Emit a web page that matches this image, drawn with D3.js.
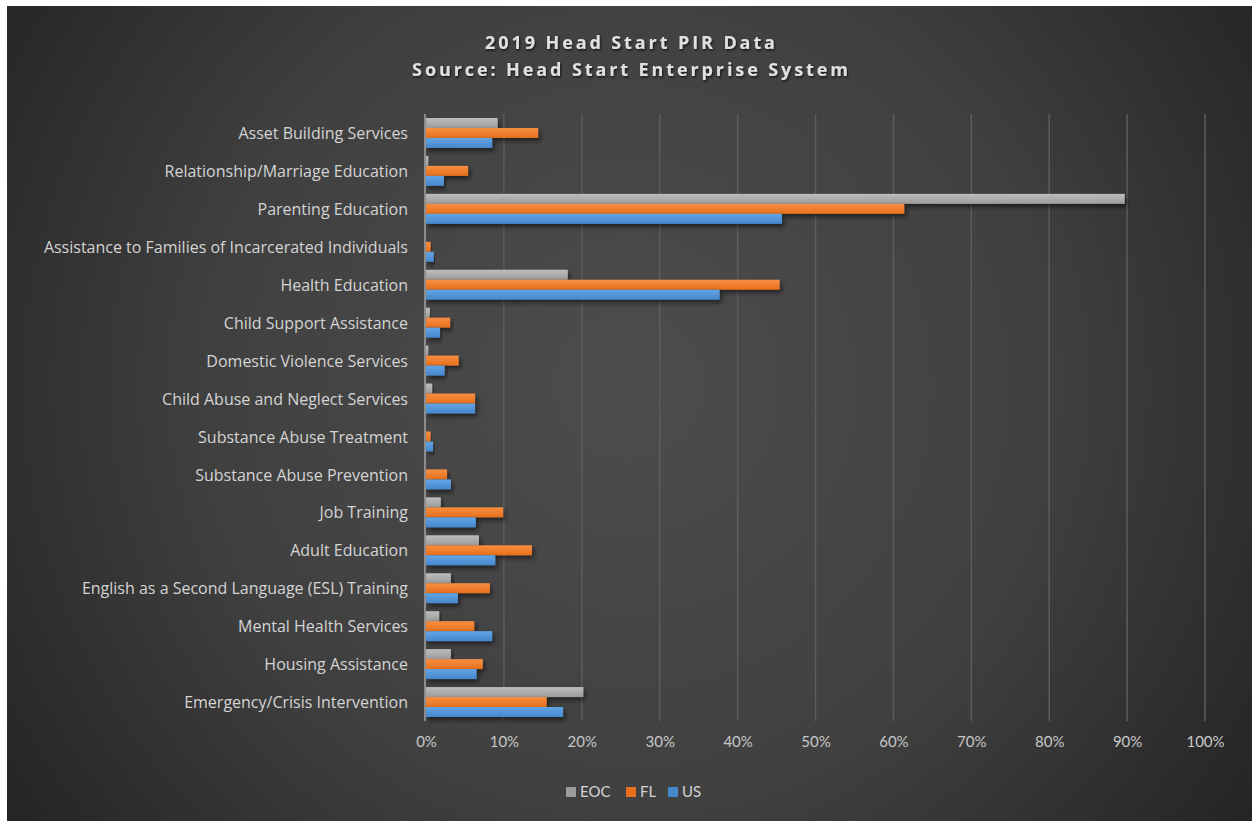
<!DOCTYPE html>
<html>
<head>
<meta charset="utf-8">
<script src="https://cdn.jsdelivr.net/npm/d3@7"></script>
<style>
  body { margin: 0; background: #fff; }
  svg { position: absolute; left: 7px; top: 6px; }
</style>
</head>
<body>
<svg id="chart" width="1245" height="815"></svg>
<script>
// categories top to bottom
const categories = [
  'Asset Building Services',
  'Relationship/Marriage Education',
  'Parenting Education',
  'Assistance to Families of Incarcerated Individuals',
  'Health Education',
  'Child Support Assistance',
  'Domestic Violence Services',
  'Child Abuse and Neglect Services',
  'Substance Abuse Treatment',
  'Substance Abuse Prevention',
  'Job Training',
  'Adult Education',
  'English as a Second Language (ESL) Training',
  'Mental Health Services',
  'Housing Assistance',
  'Emergency/Crisis Intervention'
]

const seriesNames = ['EOC', 'FL', 'US']

const eocValues = [0.092, 0.003, 0.897, 0, 0.182, 0.005, 0.003, 0.008, 0, 0, 0.019, 0.068, 0.032, 0.017, 0.032, 0.202]
const flValues = [0.144, 0.054, 0.614, 0.006, 0.454, 0.031, 0.042, 0.063, 0.006, 0.027, 0.099, 0.136, 0.082, 0.062, 0.073, 0.155]
const usValues = [0.085, 0.023, 0.457, 0.010, 0.377, 0.018, 0.024, 0.063, 0.009, 0.032, 0.064, 0.089, 0.041, 0.085, 0.065, 0.176]

const tickValues = [0, 0.1, 0.2, 0.3, 0.4, 0.5, 0.6, 0.7, 0.8, 0.9, 1]

const colors = {
  EOC: ['#bdbdbd', '#9c9c9c'],
  FL: ['#f88f42', '#e6701c'],
  US: ['#62a5e4', '#4787cc']
}

const svg = d3.select('#chart')
const W = 1245, H = 815
const defs = svg.append('defs')

// background
const bg = defs.append('radialGradient')
  .attr('id', 'bg')
  .attr('gradientUnits', 'userSpaceOnUse')
  .attr('cx', 622).attr('cy', 380).attr('r', 760)
bg.append('stop').attr('offset', '0%').attr('stop-color', '#4d4d4d')
bg.append('stop').attr('offset', '55%').attr('stop-color', '#404040')
bg.append('stop').attr('offset', '100%').attr('stop-color', '#242424')

svg.append('rect').attr('width', W).attr('height', H).attr('fill', 'url(#bg)')

// bar gradients
seriesNames.forEach(s => {
  const g = defs.append('linearGradient')
    .attr('id', 'grad-' + s)
    .attr('x1', 0).attr('y1', 0).attr('x2', 0).attr('y2', 1)
  g.append('stop').attr('offset', '0%').attr('stop-color', colors[s][0])
  g.append('stop').attr('offset', '100%').attr('stop-color', colors[s][1])
})

const shadow = defs.append('filter').attr('id', 'shadow')
  .attr('x', '-5%').attr('y', '-30%').attr('width', '120%').attr('height', '200%')
shadow.append('feDropShadow')
  .attr('dx', 2).attr('dy', 3).attr('stdDeviation', 2.5)
  .attr('flood-color', '#000').attr('flood-opacity', 0.55)

const textShadow = defs.append('filter').attr('id', 'tshadow')
textShadow.append('feDropShadow')
  .attr('dx', 1).attr('dy', 1.5).attr('stdDeviation', 1.2)
  .attr('flood-color', '#000').attr('flood-opacity', 0.7)

// scales (svg coords are page coords minus 7,6)
const xScale = d3.scaleLinear().domain([0, 1]).range([419, 1198])
const yScale = d3.scaleBand().domain(categories).range([108, 715])
const subScale = d3.scaleBand().domain(seriesNames).range([4, yScale.bandwidth() - 4])

// title
const title = svg.append('g').attr('filter', 'url(#tshadow)')
const titleLines = ['2019 Head Start PIR Data', 'Source: Head Start Enterprise System']
title.selectAll('text')
  .data(titleLines)
  .enter()
  .append('text')
  .text(d => d)
  .attr('x', W / 2 + 2)
  .attr('y', (d, i) => 43 + i * 27)
  .attr('text-anchor', 'middle')
  .attr('fill', '#e0e0e0')
  .style('font-family', '"Open Sans", sans-serif')
  .style('font-size', '18px').style('font-weight', 'bold')
  .style('letter-spacing', '2.9px')

// grid lines
svg.append('g')
  .selectAll('line')
  .data(tickValues.slice(1))
  .enter()
  .append('line')
  .attr('x1', d => xScale(d)).attr('x2', d => xScale(d))
  .attr('y1', yScale.range()[0]).attr('y2', yScale.range()[1])
  .attr('stroke', '#5c5c5c')
  .attr('stroke-width', 1.5)

// bars
const rows = categories.map((c, i) => ({
  cat: c,
  vals: [
    { s: 'EOC', v: eocValues[i] },
    { s: 'FL', v: flValues[i] },
    { s: 'US', v: usValues[i] }
  ]
}))

const barGroup = svg.append('g')
rows.forEach(r => {
  barGroup.selectAll(null)
    .data(r.vals.filter(d => d.v > 0))
    .enter()
    .append('rect')
    .attr('x', xScale(0))
    .attr('y', d => yScale(r.cat) + subScale(d.s))
    .attr('width', d => xScale(d.v) - xScale(0))
    .attr('height', subScale.bandwidth())
    .attr('fill', d => 'url(#grad-' + d.s + ')')
    .attr('filter', 'url(#shadow)')
})

// left axis line
svg.append('line')
  .attr('x1', xScale(0) - 1).attr('x2', xScale(0) - 1)
  .attr('y1', yScale.range()[0]).attr('y2', yScale.range()[1])
  .attr('stroke', '#8c8c8c').attr('stroke-width', 2)

// category labels
const leftAxis = d3.axisLeft(yScale).tickSize(0).tickPadding(17)
const la = svg.append('g')
  .attr('transform', `translate(${xScale(0) - 1}, 0)`)
  .call(leftAxis)
la.select('.domain').remove()
la.selectAll('text')
  .attr('fill', '#d4d4d4')
  .attr('dy', '0.38em')
  .style('font-size', '16px')
  .style('font-family', '"Open Sans", sans-serif')

// bottom axis
const bottomAxis = d3.axisBottom(xScale)
  .tickValues(tickValues)
  .tickFormat(d3.format('.0%'))
  .tickSize(0)
  .tickPadding(15)
const ba = svg.append('g')
  .attr('transform', `translate(0, ${yScale.range()[1]})`)
  .call(bottomAxis)
ba.select('.domain').remove()
ba.selectAll('text')
  .attr('fill', '#c8c8c8')
  .style('font-size', '15px')
  .style('font-family', 'Lato, sans-serif')

// legend
const legendItems = [
  { s: 'EOC', x: 559 },
  { s: 'FL', x: 619 },
  { s: 'US', x: 661 }
]
const legend = svg.append('g')
legend.selectAll('rect')
  .data(legendItems)
  .enter()
  .append('rect')
  .attr('x', d => d.x).attr('y', 781)
  .attr('width', 10).attr('height', 10)
  .attr('fill', d => colors[d.s][1])
legend.selectAll('text')
  .data(legendItems)
  .enter()
  .append('text')
  .text(d => d.s)
  .attr('x', d => d.x + 14).attr('y', 786)
  .attr('dy', '0.35em')
  .attr('fill', '#d4d4d4')
  .style('font-size', '15px')
  .style('font-family', 'Lato, sans-serif')
</script>
</body>
</html>
